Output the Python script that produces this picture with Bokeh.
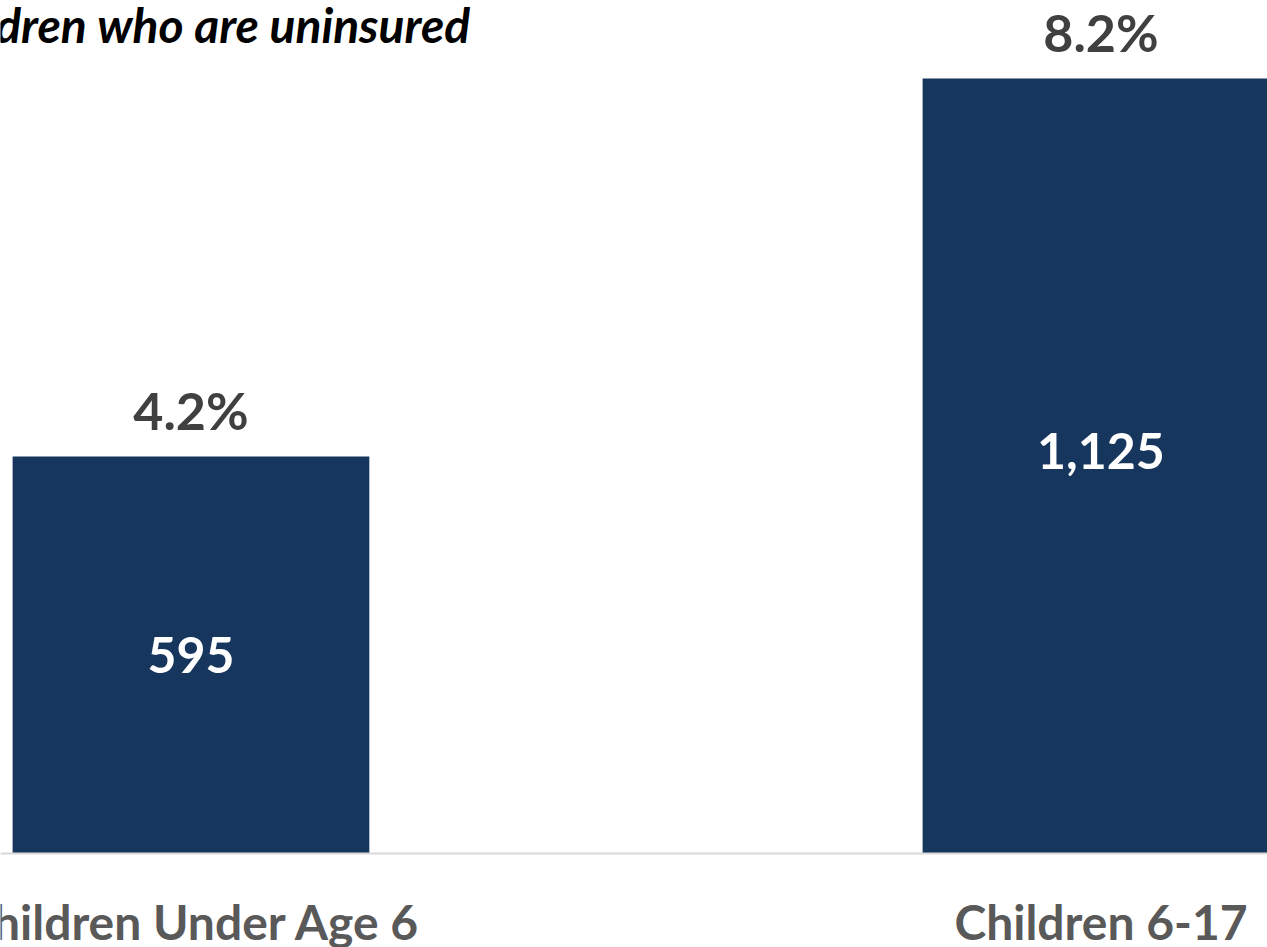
from bokeh.plotting import figure
from bokeh.models import ColumnDataSource, Range1d, Span, Label
from bokeh.core.properties import value
from bokeh.embed import file_html
from bokeh.resources import INLINE

# ---- data ----
categories = ["Children Under Age 6", "Children 6-17"]
pct_uninsured = [4.2, 8.2]
num_uninsured = [595, 1125]
title_text = "Children who are uninsured"

# ---- styles ----
BAR_COLOR = "#17365D"
FONT = "Lato"
inner_offsets = [0, -15]

xs = list(range(len(categories)))
src = ColumnDataSource(dict(
    x=xs,
    cat=categories,
    pct=pct_uninsured,
    mid=[v / 2 for v in pct_uninsured],
    pct_lbl=[f"{v:.1f}%" for v in pct_uninsured],
    num_lbl=[f"{n:,}" for n in num_uninsured],
    inner_off=inner_offsets,
))

W, H = 1267, 947
p = figure(width=W, height=H, output_backend="svg", toolbar_location=None,
           x_range=Range1d(-0.2093, 1.1830), y_range=Range1d(-0.9947, 9.026),
           min_border=0, outline_line_color=None)
p.xaxis.visible = False
p.yaxis.visible = False
p.xgrid.visible = False
p.ygrid.visible = False
p.background_fill_color = "white"
p.border_fill_color = "white"

p.vbar(x="x", top="pct", bottom=0, width=0.392, source=src,
       fill_color=BAR_COLOR, line_color=None)

p.add_layout(Span(location=0, dimension="width", line_color="#D9D9D9", line_width=2))

p.text(x="x", y="pct", text="pct_lbl", source=src, text_align="center",
       text_baseline="alphabetic", y_offset=-47,
       text_font=value(FONT), text_font_style="bold", text_font_size="52px",
       text_color="#404040")

p.text(x="x", y="mid", text="num_lbl", source=src, text_align="center",
       text_baseline="middle", y_offset="inner_off",
       text_font=value(FONT), text_font_style="bold", text_font_size="50px",
       text_color="white")

p.text(x="x", y=0, text="cat", source=src, text_align="center",
       text_baseline="alphabetic", y_offset=68,
       text_font=value(FONT), text_font_style="bold", text_font_size="48px",
       text_color="#595959")

p.add_layout(Label(x=0.3071, y=8.77, text=title_text, text_align="right",
                   text_baseline="alphabetic", text_font=FONT,
                   text_font_style="bold italic", text_font_size="48px",
                   text_color="black"))

open("out.html", "w").write(file_html(p, INLINE))
